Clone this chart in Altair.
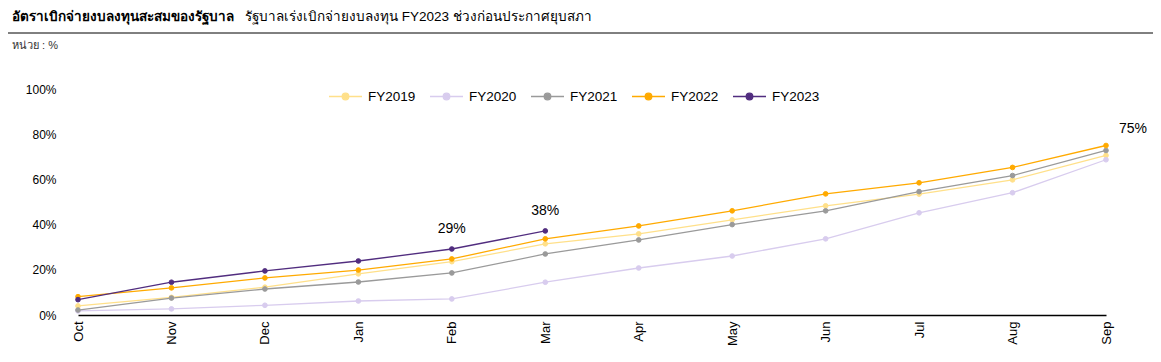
import altair as alt
import pandas as pd

months = ["Oct", "Nov", "Dec", "Jan", "Feb", "Mar", "Apr", "May", "Jun", "Jul", "Aug", "Sep"]
series_names = ["FY2019", "FY2020", "FY2021", "FY2022", "FY2023"]
colors = ["#FFE08A", "#D8CCEE", "#9A9A9A", "#FFAA00", "#512D7F"]

fy2019 = [4.0, 7.8, 12.3, 18.2, 23.6, 31.5, 35.9, 42.1, 48.3, 53.5, 59.8, 70.6]
fy2020 = [1.8, 2.7, 4.3, 6.2, 7.1, 14.5, 20.8, 26.1, 33.7, 45.2, 54.1, 68.7]
fy2021 = [2.2, 7.5, 11.5, 14.6, 18.6, 27.0, 33.2, 40.0, 46.1, 54.6, 61.7, 72.8]
fy2022 = [8.1, 12.0, 16.4, 19.9, 24.8, 33.7, 39.4, 46.1, 53.6, 58.5, 65.3, 75.0]
fy2023 = [6.8, 14.5, 19.5, 23.9, 29.2, 37.2]

y_ticks = [0, 20, 40, 60, 80, 100]

title_bold = "อัตราเบิกจ่ายงบลงทุนสะสมของรัฐบาล"
title_rest = "รัฐบาลเร่งเบิกจ่ายงบลงทุน FY2023 ช่วงก่อนประกาศยุบสภา"
unit_text = "หน่วย : %"

ann_series = ["FY2023", "FY2023", "FY2022"]
ann_month = ["Feb", "Mar", "Sep"]
ann_text = ["29%", "38%", "75%"]

rows = []
for name, vals in zip(series_names, [fy2019, fy2020, fy2021, fy2022, fy2023]):
    for m, v in zip(months, vals):
        rows.append({"series": name, "month": m, "value": v})
df = pd.DataFrame(rows)

ann_rows = []
for s, m, t in zip(ann_series, ann_month, ann_text):
    v = df[(df.series == s) & (df.month == m)]["value"].iloc[0]
    ann_rows.append({"series": s, "month": m, "value": v, "label": t})
ann = pd.DataFrame(ann_rows)

FONT = "Liberation Sans, Arial, sans-serif"

xenc = alt.X("month:N", sort=months, scale=alt.Scale(type="point", padding=0),
             axis=alt.Axis(title=None, labelAngle=270, labelFontSize=13, labelColor="#000",
                           domainColor="#000", domainWidth=1.3, ticks=False, grid=False,
                           labelPadding=6, labelFont=FONT))
yenc = alt.Y("value:Q", scale=alt.Scale(domain=[0, 100], nice=False),
             axis=alt.Axis(title=None, values=y_ticks, labelExpr="datum.value + '%'",
                           domain=False, ticks=False, grid=False, labelFontSize=12,
                           labelColor="#000", labelPadding=22, labelFont=FONT))

scale = alt.Scale(domain=series_names, range=colors)
legend = alt.Legend(title=None, orient="none", direction="horizontal", legendX=250, legendY=-10,
                    symbolType="M-1,0H1M0.2,0A0.2,0.2,0,1,1,-0.2,0A0.2,0.2,0,1,1,0.2,0Z",
                    symbolSize=1089, symbolStrokeWidth=1.3, labelFontSize=13.5, labelFont=FONT,
                    labelColor="#000", labelOffset=5, columnPadding=11)

base = alt.Chart(df)
lines = base.mark_line(strokeWidth=1.3).encode(
    x=xenc, y=yenc,
    stroke=alt.Stroke("series:N", scale=scale, legend=legend),
    detail="series:N",
)
points = base.mark_point(filled=True, size=22, strokeWidth=1, opacity=1).encode(
    x=xenc, y=yenc,
    fill=alt.Fill("series:N", scale=scale, legend=legend),
    stroke=alt.Stroke("series:N", scale=scale, legend=legend),
)

ann_mid = alt.Chart(ann[ann.month != "Sep"]).mark_text(
    fontSize=14, font=FONT, color="#000", dy=-20).encode(
    x=alt.X("month:N", sort=months), y="value:Q", text="label:N")
ann_end = alt.Chart(ann[ann.month == "Sep"]).mark_text(
    fontSize=14, font=FONT, color="#000", dx=27, dy=-17).encode(
    x=alt.X("month:N", sort=months), y="value:Q", text="label:N")

one = pd.DataFrame({"a": [0]})
t1 = alt.Chart(one).mark_text(text=title_bold, fontWeight="bold", fontSize=13.5, align="left",
                              baseline="middle", color="#000").encode(
    x=alt.value(-66), y=alt.value(-72))
t2 = alt.Chart(one).mark_text(text=title_rest, fontSize=13.5, align="left",
                              baseline="middle", color="#000").encode(
    x=alt.value(167), y=alt.value(-72))
rule = alt.Chart(one).mark_rule(color="#000", strokeWidth=1).encode(
    x=alt.value(-70), x2=alt.value(1075), y=alt.value(-56))
unit = alt.Chart(one).mark_text(text=unit_text, fontSize=11, align="left",
                                baseline="middle", color="#333").encode(
    x=alt.value(-66), y=alt.value(-43))

chart = alt.layer(lines, points, ann_mid, ann_end, t1, t2, rule, unit).properties(
    width=1028, height=226,
    autosize=alt.AutoSizeParams(type="none"),
    padding={"left": 70, "top": 81, "right": 47, "bottom": 38},
).configure(font=FONT).configure_view(stroke=None)

chart.save("out.html", embed_options={"renderer": "svg", "actions": False})
